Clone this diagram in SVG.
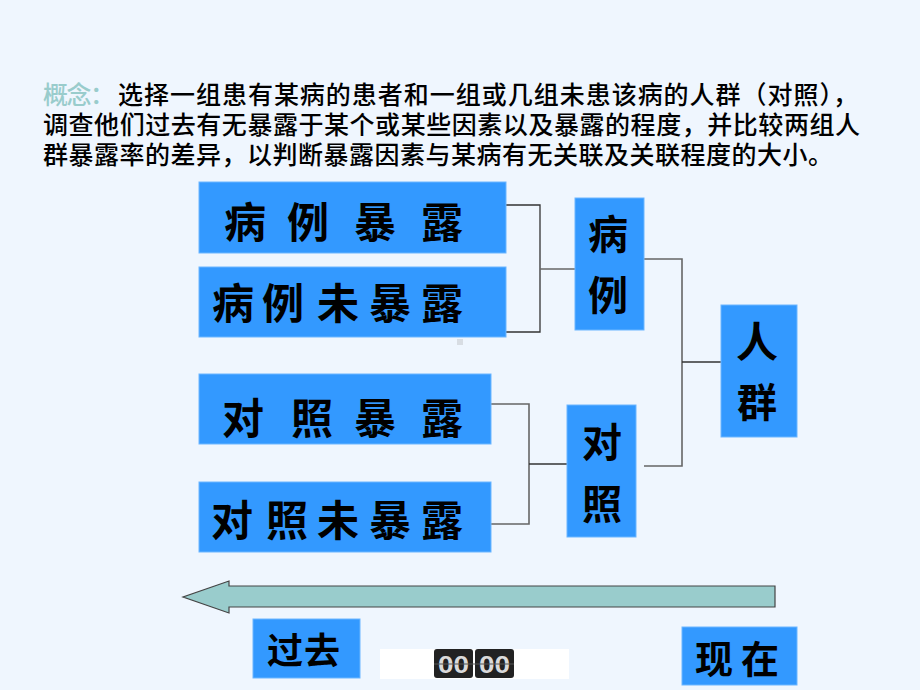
<svg xmlns="http://www.w3.org/2000/svg" width="920" height="690" viewBox="0 0 920 690">
<style>
.bg{fill:#EFF6FE}
.box{fill:#3399FF;stroke:#6DB6FF;stroke-width:1}
.t{font-family:"Noto Sans CJK SC","Noto Sans CJK JP",sans-serif;font-size:25px;font-weight:500;fill:#000}
.k{font-family:"Noto Sans CJK SC","Noto Sans CJK JP",sans-serif;font-weight:bold;fill:#000;text-anchor:middle;dominant-baseline:central}
.c{fill:none;stroke:#333;stroke-width:1.3}
.c2{fill:none;stroke:#666;stroke-width:1.6}
.d{font-family:"Liberation Sans",sans-serif;font-weight:bold;font-size:24px;fill:#DADADA;dominant-baseline:central}
</style>
<rect class="bg" x="0" y="0" width="920" height="690"/>
<g id="intro">
<text class="t" x="43" y="104" style="fill:#99CCCC" textLength="72">概念：</text>
<text class="t" x="118" y="104" textLength="740">选择一组患有某病的患者和一组或几组未患该病的人群（对照），</text>
<text class="t" x="43" y="134" textLength="817">调查他们过去有无暴露于某个或某些因素以及暴露的程度，并比较两组人</text>
<text class="t" x="43" y="164" textLength="790">群暴露率的差异，以判断暴露因素与某病有无关联及关联程度的大小。</text>
</g>
<g id="connectors">
<polyline class="c" points="506,205 540,205 540,332 506,332"/>
<line class="c2" x1="540" y1="269" x2="575" y2="269"/>
<polyline class="c2" points="644,259 682,259 682,466 644,466"/>
<line class="c" x1="682" y1="362" x2="721" y2="362"/>
<polyline class="c2" points="491,404 529,404 529,524 491,524"/>
<line class="c" x1="529" y1="464" x2="567" y2="464"/>
</g>
<g id="case-exposed">
<rect class="box" x="199" y="182" width="307" height="71"/>
<text class="k" font-size="42" y="219"><tspan x="245">病</tspan><tspan x="308">例</tspan><tspan x="375">暴</tspan><tspan x="442">露</tspan></text>
</g>
<g id="case-unexposed">
<rect class="box" x="199" y="267" width="307" height="70"/>
<text class="k" font-size="42" y="300"><tspan x="233">病</tspan><tspan x="283">例</tspan><tspan x="338">未</tspan><tspan x="390">暴</tspan><tspan x="442">露</tspan></text>
</g>
<g id="control-exposed">
<rect class="box" x="199" y="374" width="292" height="70"/>
<text class="k" font-size="42" y="415"><tspan x="243">对</tspan><tspan x="312">照</tspan><tspan x="375">暴</tspan><tspan x="442">露</tspan></text>
</g>
<g id="control-unexposed">
<rect class="box" x="199" y="482" width="292" height="70"/>
<text class="k" font-size="42" y="517"><tspan x="232">对</tspan><tspan x="287">照</tspan><tspan x="338">未</tspan><tspan x="390">暴</tspan><tspan x="442">露</tspan></text>
</g>
<g id="case">
<rect class="box" x="575" y="198" width="69" height="132"/>
<text class="k" font-size="40" x="608" y="232">病</text>
<text class="k" font-size="40" x="608" y="293">例</text>
</g>
<g id="control">
<rect class="box" x="567" y="405" width="69" height="132"/>
<text class="k" font-size="40" x="602" y="440">对</text>
<text class="k" font-size="40" x="602" y="502">照</text>
</g>
<g id="population">
<rect class="box" x="721" y="305" width="76" height="132"/>
<text class="k" font-size="42" x="757" y="338">人</text>
<text class="k" font-size="40" x="757" y="400">群</text>
</g>
<rect x="457" y="339" width="6" height="6" fill="#D8DDE3"/>
<g id="time-arrow">
<polygon points="775,586 229,586 229,581 183,597 229,613 229,607 775,607" fill="#99CCCC" stroke="#444" stroke-width="1.2"/>
</g>
<g id="past">
<rect class="box" x="253" y="619" width="107" height="59"/>
<text class="k" font-size="36" y="648"><tspan x="285">过</tspan><tspan x="322">去</tspan></text>
</g>
<g id="now">
<rect class="box" x="682" y="627" width="115" height="58"/>
<text class="k" font-size="38" y="656"><tspan x="714">现</tspan><tspan x="760">在</tspan></text>
</g>
<g id="timer">
<rect x="380" y="649" width="189" height="30" fill="#FFFFFF"/>
<rect x="434" y="649" width="39" height="29" rx="3" fill="#222"/>
<rect x="475" y="649" width="39" height="29" rx="3" fill="#222"/>
<text class="d" x="438" y="664" textLength="31" lengthAdjust="spacingAndGlyphs">00</text>
<text class="d" x="479" y="664" textLength="31" lengthAdjust="spacingAndGlyphs">00</text>
<line x1="434" y1="664" x2="514" y2="664" stroke="#555" stroke-width="1"/>
</g>
</svg>
